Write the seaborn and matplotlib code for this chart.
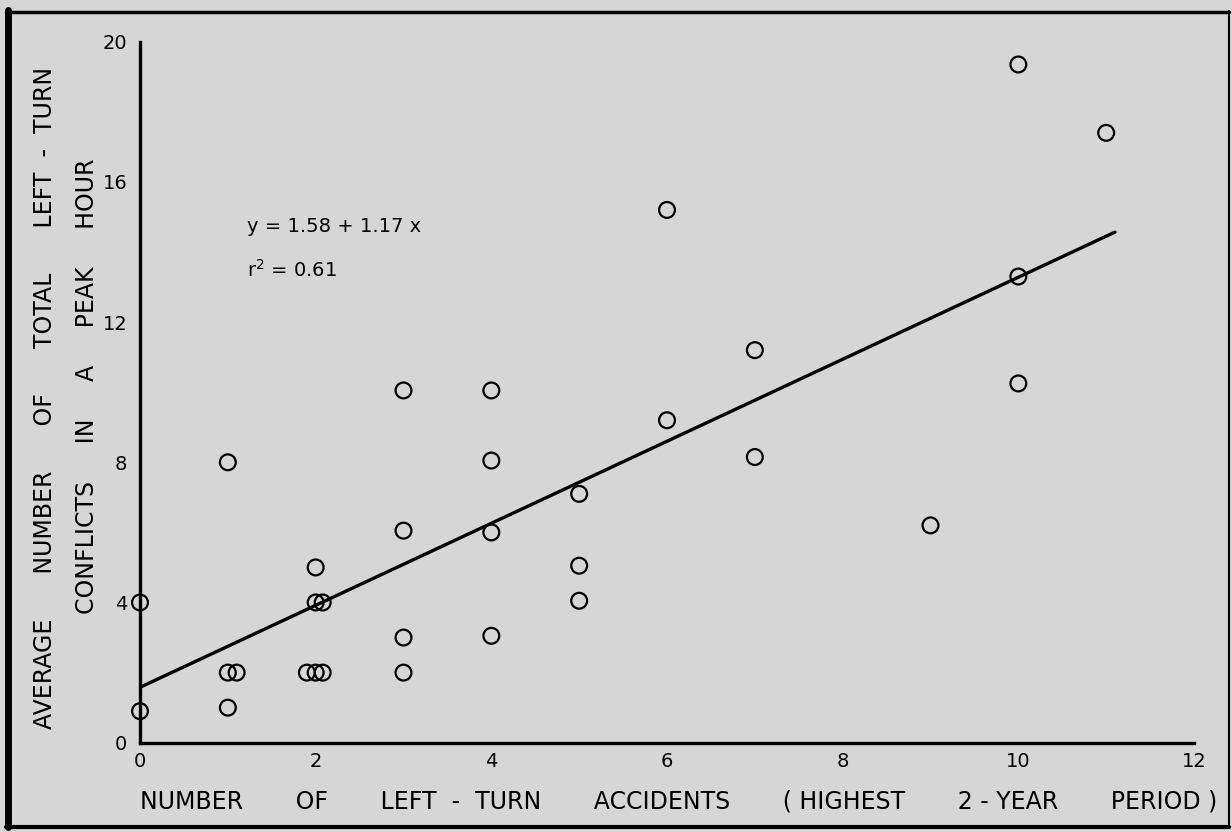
import numpy as np
import pandas as pd
import matplotlib
matplotlib.use("Agg")
import matplotlib.pyplot as plt
from matplotlib.lines import Line2D
import seaborn as sns

# ---- data ----
accidents = [0, 0, 1, 1, 1.1, 1, 2, 2, 2.08, 1.9, 2, 2.08,
             3, 3, 3, 3, 4, 4, 4, 4, 5, 5, 5, 6, 6, 7, 7, 9,
             10, 10, 10, 11]
conflicts = [0.9, 4, 8, 2, 2, 1, 5, 4, 4, 2, 2, 2,
             10.05, 6.05, 3.0, 2.0, 10.05, 8.05, 6.0, 3.05, 7.1, 5.05, 4.05, 15.2, 9.2, 11.2, 8.15, 6.2,
             19.35, 13.3, 10.25, 17.4]
intercept = 1.58
slope = 1.17
fit_x_range = [0, 11.1]
x_ticks = [0, 2, 4, 6, 8, 10, 12]
y_ticks = [0, 4, 8, 12, 16, 20]
equation_text = "y = 1.58 + 1.17 x"
r2_text = "r$^2$ = 0.61"
x_label = "NUMBER       OF       LEFT  -  TURN       ACCIDENTS       ( HIGHEST       2 - YEAR       PERIOD )"
y_label_1 = "AVERAGE      NUMBER      OF      TOTAL      LEFT  -  TURN"
y_label_2 = "CONFLICTS     IN     A     PEAK     HOUR"

df = pd.DataFrame({"x": accidents, "y": conflicts})
fit = pd.DataFrame({"x": fit_x_range})
fit["y"] = intercept + slope * fit["x"]

sns.set_theme(style="white")
plt.rcParams["font.family"] = ["DejaVu Sans"]

bg = "#d6d6d6"
W, H = 1232, 832
fig = plt.figure(figsize=(12.32, 8.32), dpi=100, facecolor=bg)
ax = fig.add_axes([140 / W, 1 - 742.7 / H, (1194 - 140) / W, (742.7 - 41.7) / H])
ax.set_facecolor(bg)

sns.lineplot(data=fit, x="x", y="y", ax=ax, color="black", linewidth=2.4)
sns.scatterplot(data=df, x="x", y="y", ax=ax, marker="o", s=130,
                facecolors="none", edgecolor="black", linewidth=1.6, zorder=5,
                clip_on=False)

ax.set_xlim(0, 12)
ax.set_ylim(0, 20)
xt = np.arange(0, 12.1, 1)
ax.set_xticks(xt)
ax.set_xticklabels([str(int(v)) if v in x_ticks else "" for v in xt])
yt = np.arange(0, 20.1, 2)
ax.set_yticks(yt)
ax.set_yticklabels([str(int(v)) if v in y_ticks else "" for v in yt])
ax.tick_params(axis="both", direction="in", length=12, width=2.2, colors="black",
               labelsize=14, pad=7)
ax.tick_params(axis="y", pad=9)
for s in ["top", "right"]:
    ax.spines[s].set_visible(False)
for s in ["left", "bottom"]:
    ax.spines[s].set_color("black")
    ax.spines[s].set_linewidth(2.4)
ax.set_xlabel("")
ax.set_ylabel("")

fig.text(247 / W, 1 - 227 / H, equation_text, fontsize=14, color="black", va="center", ha="left")
fig.text(247 / W, 1 - 270 / H, r2_text, fontsize=14, color="black", va="center", ha="left")

fig.text(140 / W, 1 - 801 / H, x_label, ha="left", va="center",
         fontsize=17, color="black")
fig.text(45 / W, 1 - 398 / H, y_label_1, ha="center", va="center",
         rotation=90, fontsize=17, color="black")
fig.text(87 / W, 1 - 386 / H, y_label_2, ha="center", va="center",
         rotation=90, fontsize=17, color="black")

# scanned-page border
fig.add_artist(Line2D([8 / W, 8 / W], [5 / H, 1 - 10 / H], transform=fig.transFigure, color="black", lw=5))
fig.add_artist(Line2D([6 / W, 1229 / W], [1 - 11.5 / H, 1 - 11.5 / H], transform=fig.transFigure, color="black", lw=2.5))
fig.add_artist(Line2D([6 / W, 1229 / W], [5 / H, 5 / H], transform=fig.transFigure, color="black", lw=3))
fig.add_artist(Line2D([1229 / W, 1229 / W], [5 / H, 1 - 11 / H], transform=fig.transFigure, color="black", lw=1.5))

fig.savefig("out.png", dpi=100, facecolor=bg)
